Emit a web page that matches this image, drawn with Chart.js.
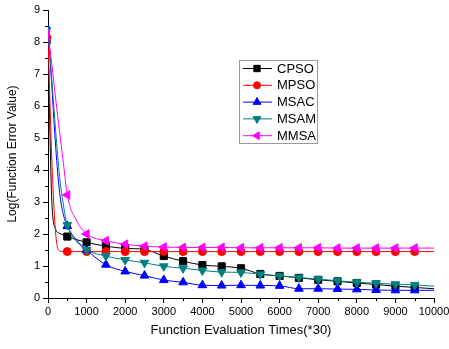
<!DOCTYPE html>
<html>
<head>
<meta charset="utf-8">
<script src="https://cdn.jsdelivr.net/npm/chart.js@4/dist/chart.umd.min.js"></script>
<style>
  html, body { margin: 0; padding: 0; background: #fff; }
  #wrap { width: 449px; height: 349px; position: relative; }
</style>
</head>
<body>
<div id="wrap"><canvas id="c" width="449" height="349"></canvas></div>
<script>
// Function evaluation times (*30)
const evalTimes = [0, 100, 200, 300, 400, 500, 750, 1000, 1500, 2000, 2500, 3000, 3500, 4000, 4500,
  5000, 5500, 6000, 6500, 7000, 7500, 8000, 8500, 9000, 9500, 10000];

const seriesNames = ['CPSO', 'MPSO', 'MSAC', 'MSAM', 'MMSA'];

const cpso = [8.0, 3.0, 2.15, 2.02, 1.97, 1.92, 1.82, 1.74, 1.62, 1.55, 1.52, 1.31, 1.15, 1.03, 0.99,
  0.93, 0.75, 0.69, 0.63, 0.57, 0.52, 0.47, 0.42, 0.37, 0.33, 0.29];
const mpso = [8.15, 4.3, 2.0, 1.47, 1.45, 1.45, 1.45, 1.45, 1.45, 1.45, 1.45, 1.45, 1.45, 1.45, 1.45,
  1.45, 1.45, 1.45, 1.45, 1.45, 1.45, 1.45, 1.45, 1.45, 1.45, 1.45];
const msac = [8.45, 6.6, 4.7, 3.3, 2.6, 2.25, 1.8, 1.5, 1.04, 0.83, 0.7, 0.56, 0.49, 0.4, 0.39,
  0.4, 0.39, 0.38, 0.29, 0.29, 0.28, 0.27, 0.25, 0.24, 0.24, 0.24];
const msam = [8.4, 6.8, 5.2, 3.8, 2.9, 2.28, 1.75, 1.5, 1.31, 1.19, 1.1, 0.99, 0.93, 0.86, 0.81,
  0.8, 0.74, 0.69, 0.64, 0.59, 0.54, 0.49, 0.46, 0.43, 0.41, 0.37];
const mmsa = [8.3, 7.3, 6.2, 5.2, 4.2, 3.22, 2.4, 2.0, 1.79, 1.68, 1.62, 1.59, 1.58, 1.58, 1.58,
  1.57, 1.57, 1.57, 1.57, 1.57, 1.56, 1.56, 1.56, 1.56, 1.56, 1.56];

const yTicks = [0, 1, 2, 3, 4, 5, 6, 7, 8, 9];
const xTicks = [0, 1000, 2000, 3000, 4000, 5000, 6000, 7000, 8000, 9000, 10000];

const styles = [
  { color: '#000000', point: 'rect', rot: 0, r: 5 },
  { color: '#ff0000', point: 'circle', rot: 0, r: 4 },
  { color: '#0000ff', point: 'triangle', rot: 0, r: 5 },
  { color: '#008080', point: 'triangle', rot: 180, r: 5 },
  { color: '#ff00ff', point: 'triangle', rot: -90, r: 5 }
];
const allValues = [cpso, mpso, msac, msam, mmsa];

const datasets = seriesNames.map((name, i) => ({
  label: name,
  data: evalTimes.map((x, k) => ({ x: x, y: allValues[i][k] })),
  borderColor: styles[i].color,
  backgroundColor: styles[i].color,
  borderWidth: 1,
  pointStyle: styles[i].point,
  rotation: styles[i].rot,
  pointRadius: (ctx) => {
    const x = evalTimes[ctx.dataIndex];
    if (x === 0) return 3;
    return (x % 500 === 0 && x < 10000) ? styles[i].r : 0;
  },
  pointBorderWidth: 1,
  cubicInterpolationMode: 'monotone',
  clip: { left: 0, top: 10, right: 10, bottom: 10 },
  order: 5 - i
}));

const FONT = "'Liberation Sans', Arial, sans-serif";

const minorTicks = {
  id: 'minorTicks',
  afterDraw(chart) {
    const ctx = chart.ctx;
    const xs = chart.scales.x, ys = chart.scales.y;
    ctx.save();
    ctx.strokeStyle = '#000';
    ctx.lineWidth = 1;
    ctx.beginPath();
    for (let v = 500; v < 10000; v += 1000) {
      const px = Math.round(xs.getPixelForValue(v)) + 0.5;
      ctx.moveTo(px, ys.bottom);
      ctx.lineTo(px, ys.bottom + 3);
    }
    for (let v = 0.5; v < 9; v += 1) {
      const py = Math.round(ys.getPixelForValue(v)) + 0.5;
      ctx.moveTo(xs.left, py);
      ctx.lineTo(xs.left - 3, py);
    }
    ctx.stroke();
    ctx.restore();
  }
};

const boxLegend = {
  id: 'boxLegend',
  afterDraw(chart) {
    const ctx = chart.ctx;
    const left = 239, top = 60, w = 78, h = 83;
    ctx.save();
    ctx.fillStyle = '#fff';
    ctx.fillRect(left, top, w, h);
    ctx.strokeStyle = '#999';
    ctx.lineWidth = 1;
    ctx.strokeRect(left + 0.5, top + 0.5, w, h);
    ctx.font = '13px ' + FONT;
    ctx.textBaseline = 'middle';
    ctx.textAlign = 'left';
    seriesNames.forEach((name, i) => {
      const y = top + 8 + i * 16.8;
      const st = styles[i];
      ctx.strokeStyle = st.color;
      ctx.beginPath();
      ctx.moveTo(left + 4, y + 0.5);
      ctx.lineTo(left + 33, y + 0.5);
      ctx.stroke();
      ctx.fillStyle = st.color;
      Chart.helpers.drawPoint(ctx, { pointStyle: st.point, rotation: st.rot, radius: st.r - 0.5, borderWidth: 1 }, left + 18, y + 0.5);
      ctx.fillStyle = '#000';
      ctx.fillText(name, left + 38, y + 1);
    });
    ctx.restore();
  }
};

new Chart(document.getElementById('c'), {
  type: 'line',
  data: { datasets: datasets },
  options: {
    responsive: false,
    animation: false,
    devicePixelRatio: 1,
    layout: { padding: { left: 0, right: 15, top: 10, bottom: 0 } },
    plugins: { legend: { display: false }, tooltip: { enabled: false } },
    scales: {
      x: {
        type: 'linear',
        min: 0, max: 10000,
        afterFit: (s) => { s.height = 51; s.paddingLeft = 0; s.paddingRight = 0; },
        afterBuildTicks: (s) => { s.ticks = xTicks.map(v => ({ value: v })); },
        ticks: { color: '#000', font: { size: 11, family: FONT }, padding: 2, maxRotation: 0, autoSkip: false,
          callback: (v) => String(v) },
        grid: { display: true, drawOnChartArea: false, drawTicks: true, tickLength: 5, color: '#000' },
        border: { display: true, color: '#000', width: 1 },
        title: { display: true, text: 'Function Evaluation Times(*30)', color: '#000',
          font: { size: 13, family: FONT }, padding: { top: 4, bottom: 11 } }
      },
      y: {
        type: 'linear',
        min: 0, max: 9,
        afterFit: (s) => { s.width = 48; s.paddingTop = 0; s.paddingBottom = 0; },
        afterBuildTicks: (s) => { s.ticks = yTicks.map(v => ({ value: v })); },
        ticks: { color: '#000', font: { size: 11, family: FONT }, padding: 3, callback: (v) => String(v) },
        grid: { display: true, drawOnChartArea: false, drawTicks: true, tickLength: 5, color: '#000' },
        border: { display: true, color: '#000', width: 1 },
        title: { display: true, text: 'Log(Function Error Value)', color: '#000',
          font: { size: 12, family: FONT }, padding: { top: 5, bottom: 0 } }
      }
    }
  },
  plugins: [minorTicks, boxLegend]
});
</script>
</body>
</html>
